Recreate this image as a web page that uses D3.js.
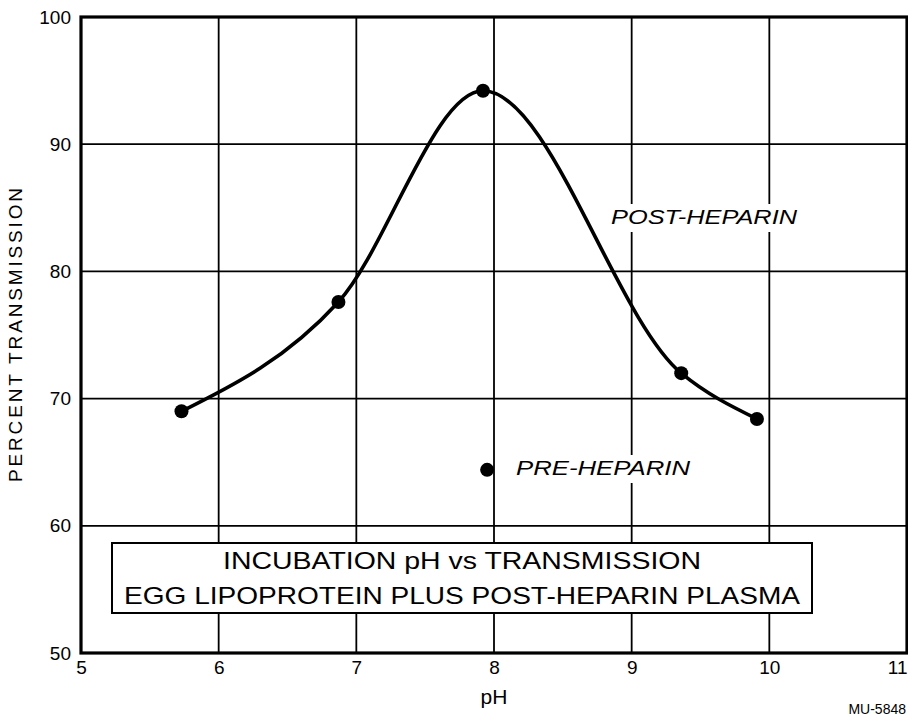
<!DOCTYPE html>
<html>
<head>
<meta charset="utf-8">
<script src="https://cdn.jsdelivr.net/npm/d3@7"></script>
<style>
  body { margin: 0; background: #fff; }
  text { font-family: "Liberation Sans", Arial, sans-serif; fill: #000; }
</style>
</head>
<body>
<script>
// post-heparin readings (pH, percent transmission)
var postPH = [5.73, 6.87, 7.92, 9.36, 9.91];
var postT  = [69.0, 77.6, 94.2, 72.0, 68.4];
// pre-heparin reading
var prePH = [7.95];
var preT  = [64.4];

var xTicks = [5, 6, 7, 8, 9, 10, 11];
var yTicks = [50, 60, 70, 80, 90, 100];
var titleLines = ["INCUBATION pH vs TRANSMISSION", "EGG LIPOPROTEIN PLUS POST-HEPARIN PLASMA"];

// hard coded page size
var margin = {top: 17, right: 1, bottom: 64, left: 81},
    width = 908 - margin.left - margin.right,
    height = 717 - margin.top - margin.bottom;

var x = d3.scaleLinear().domain([5, 11]).range([0, width]);
var y = d3.scaleLinear().domain([50, 100]).range([height, 0]);

var svg = d3.select("body").append("svg")
    .attr("width", 908)
    .attr("height", 717)
  .append("g")
    .attr("transform", "translate(" + margin.left + "," + margin.top + ")");

// grid lines
svg.append("g").selectAll("line.vx")
    .data(xTicks.slice(1, -1))
  .enter().append("line")
    .attr("x1", d => x(d)).attr("x2", d => x(d))
    .attr("y1", 0).attr("y2", height)
    .attr("stroke", "#000").attr("stroke-width", 1.8);

svg.append("g").selectAll("line.hy")
    .data(yTicks.slice(1, -1))
  .enter().append("line")
    .attr("y1", d => y(d)).attr("y2", d => y(d))
    .attr("x1", 0).attr("x2", width)
    .attr("stroke", "#000").attr("stroke-width", 1.8);

// frame
svg.append("rect")
    .attr("width", width).attr("height", height)
    .attr("fill", "none").attr("stroke", "#000").attr("stroke-width", 3.2);

// x axis labels
var xAxis = svg.append("g")
    .attr("transform", "translate(0," + height + ")")
    .call(d3.axisBottom(x).tickValues(xTicks).tickFormat(d3.format("d")).tickSize(0).tickPadding(8));
xAxis.select(".domain").remove();
xAxis.selectAll("text").style("font-size", "19px").attr("fill", "#000");
// last label would run off the page, pull it in
xAxis.selectAll(".tick").filter(d => d == 11).select("text")
    .style("text-anchor", "end").attr("x", 0);

// y axis labels
var yAxis = svg.append("g")
    .call(d3.axisLeft(y).tickValues(yTicks).tickSize(0).tickPadding(10));
yAxis.select(".domain").remove();
yAxis.selectAll("text").style("font-size", "19px").attr("fill", "#000");

// axis titles
svg.append("text")
    .attr("x", x(8)).attr("y", height + 51)
    .style("text-anchor", "middle").style("font-size", "21px")
    .text("pH");

svg.append("text")
    .attr("transform", "rotate(-90)")
    .attr("x", -height / 2).attr("y", -59)
    .style("text-anchor", "middle").style("font-size", "19px")
    .attr("textLength", 294).attr("lengthAdjust", "spacing")
    .text("PERCENT TRANSMISSION");

// title box
var boxL = 112 - margin.left, boxR = 812 - margin.left,
    boxT = 543 - margin.top, boxB = 613 - margin.top;
svg.append("rect")
    .attr("x", boxL).attr("y", boxT)
    .attr("width", boxR - boxL).attr("height", boxB - boxT)
    .attr("fill", "#fff").attr("stroke", "#000").attr("stroke-width", 2);
svg.selectAll("text.title")
    .data(titleLines)
  .enter().append("text")
    .attr("class", "title")
    .attr("x", (boxL + boxR) / 2)
    .attr("y", (d, i) => boxT + 26 + i * 35)
    .style("text-anchor", "middle").style("font-size", "24px")
    .attr("textLength", (d, i) => i == 0 ? 478 : 676)
    .attr("lengthAdjust", "spacingAndGlyphs")
    .text(d => d);

// white patches behind the hand-lettered labels
function label(txt, px, py, len) {
  svg.append("rect")
    .attr("x", px - 4).attr("y", py - 20)
    .attr("width", len + 8).attr("height", 28)
    .attr("fill", "#fff");
  svg.append("text")
    .attr("x", px).attr("y", py)
    .style("font-size", "20px").style("font-style", "italic")
    .attr("textLength", len).attr("lengthAdjust", "spacingAndGlyphs")
    .text(txt);
}
label("POST-HEPARIN", 611 - margin.left, 224 - margin.top, 186);
label("PRE-HEPARIN", 516 - margin.left, 475 - margin.top, 174);

// the curve
var post = postPH.map((d, i) => ({ph: d, t: postT[i]}));
var pre = prePH.map((d, i) => ({ph: d, t: preT[i]}));

var myLine = d3.line()
    .x(d => x(d.ph))
    .y(d => y(d.t))
    .curve(d3.curveMonotoneX);

svg.append("path")
    .datum(post)
    .attr("d", myLine)
    .attr("fill", "none").attr("stroke", "#000").attr("stroke-width", 3.6);

svg.selectAll("circle.post")
    .data(post)
  .enter().append("circle")
    .attr("cx", d => x(d.ph)).attr("cy", d => y(d.t))
    .attr("r", 7).attr("fill", "#000");

svg.selectAll("circle.pre")
    .data(pre)
  .enter().append("circle")
    .attr("cx", d => x(d.ph)).attr("cy", d => y(d.t))
    .attr("r", 7).attr("fill", "#000");

// drawing number at the bottom edge
svg.append("text")
    .attr("x", 906 - margin.left).attr("y", 714 - margin.top)
    .style("text-anchor", "end").style("font-size", "14px")
    .text("MU-5848");
</script>
</body>
</html>
